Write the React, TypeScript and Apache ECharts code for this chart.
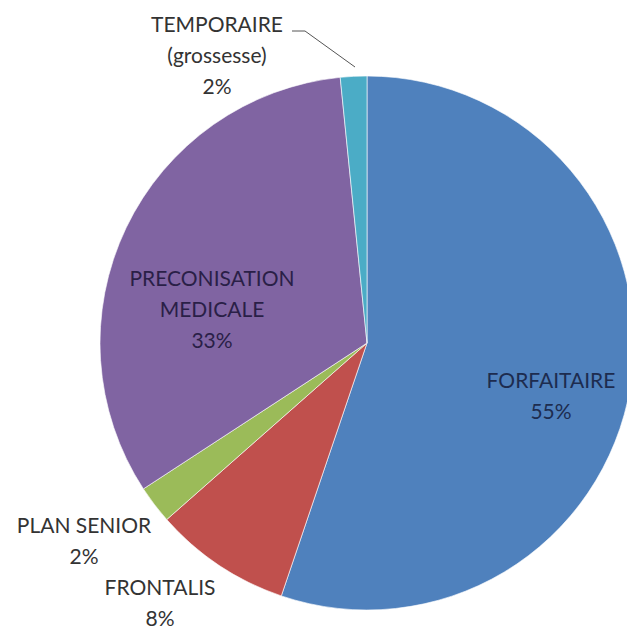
import React, { useEffect, useRef } from "react";
import * as echarts from "echarts";

const categories = [
  "FORFAITAIRE",
  "FRONTALIS",
  "PLAN SENIOR",
  "PRECONISATION\nMEDICALE",
  "TEMPORAIRE\n(grossesse)",
];
const values = [55.2, 8.3, 2.3, 32.6, 1.6];
const colors = ["#4f81bd", "#c0504d", "#9bbb59", "#8064a2", "#4bacc6"];
const labelColors = ["#1d2c4f", "#333333", "#333333", "#2a1f47", "#333333"];

// label anchor positions (layout only)
const labelPos: [number, number][] = [
  [551, 395],
  [160, 602],
  [84, 540],
  [212, 308],
  [217, 54],
];

export default function App() {
  const ref = useRef<HTMLDivElement>(null);
  useEffect(() => {
    if (!ref.current) return;
    const chart = echarts.init(ref.current, undefined, { renderer: "svg" });
    chart.setOption({
      animation: false,
      backgroundColor: "#ffffff",
      series: [
        {
          type: "pie",
          center: [367, 343],
          radius: 267,
          startAngle: 90,
          clockwise: true,
          avoidLabelOverlap: false,
          percentPrecision: 0,
          itemStyle: { borderColor: "rgba(255,255,255,0.6)", borderWidth: 1 },
          label: {
            show: true,
            position: "outside",
            formatter: "{b}\n{d}%",
            fontFamily: "Lato",
            fontSize: 21,
            lineHeight: 31,
            align: "center",
          },
          labelLine: { show: false },
          labelLayout: (params: any) => {
            const i = params.dataIndex;
            const p = labelPos[i];
            const res: any = { x: p[0], y: p[1], align: "center", verticalAlign: "middle" };
            if (i === 4) {
              res.labelLinePoints = [
                [355, 67],
                [305, 31],
                [292, 31],
              ];
            }
            return res;
          },
          data: categories.map((name, i) => ({
            name,
            value: values[i],
            itemStyle: { color: colors[i] },
            label: { color: labelColors[i] },
            labelLine:
              i === 4
                ? { show: true, lineStyle: { color: "#555555", width: 1 } }
                : { show: false },
          })),
        },
      ],
    });
    return () => chart.dispose();
  }, []);
  return (
    <div
      ref={ref}
      style={{ position: "absolute", left: 0, top: 0, width: 627, height: 637 }}
    />
  );
}
